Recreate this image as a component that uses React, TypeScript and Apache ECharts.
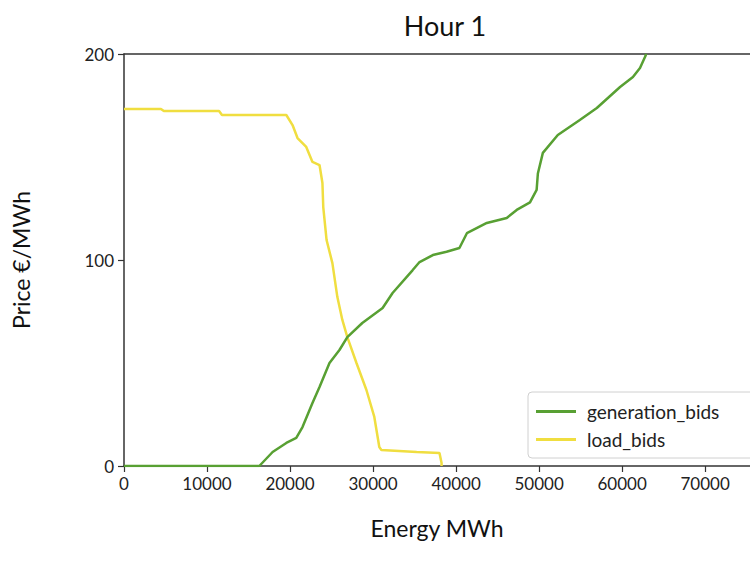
import React, { useEffect, useRef } from "react";
import * as echarts from "echarts";

const title = "Hour 1";
const xName = "Energy MWh";
const yName = "Price €/MWh";
const seriesNames = ["generation_bids", "load_bids"];

// generation bids: [energy MWh, price €/MWh]
const generationEnergy = [0, 16300, 17900, 19550, 20750, 21500, 22700, 23550, 24750, 25950, 26900, 28700, 31150, 32350, 34750, 35600, 37200, 38850, 40400, 41300, 43700, 46100, 47300, 48900, 49700, 49850, 50450, 52250, 54900, 56950, 59750, 61300, 62150, 62750, 62900];
const generationPrice = [0, 0, 6.8, 11.2, 13.6, 18.9, 30.6, 38.3, 50, 56.3, 62.6, 69.4, 76.7, 84, 95, 99, 102.4, 104, 105.8, 113, 118, 120.4, 124.3, 128, 134, 142, 152, 160.7, 168, 173.8, 184, 188.8, 193.2, 198.5, 200];

// load bids: [energy MWh, price €/MWh]
const loadEnergy = [0, 4450, 4800, 11450, 11800, 19550, 20300, 20900, 21950, 22700, 23550, 23900, 24000, 24400, 25100, 25700, 26300, 26900, 28000, 29200, 30150, 30750, 31000, 35250, 38000, 38250, 38250];
const loadPrice = [173.3, 173.3, 172.3, 172.3, 170.4, 170.4, 165.5, 159.2, 154.9, 147.6, 146.1, 137.4, 125.7, 109.7, 98.5, 82, 70.9, 62.6, 50, 36.9, 23.8, 9.2, 7.8, 6.8, 6.3, 1.5, 0];

const xMin = 0;
const xMax = 75400;
const xInterval = 10000;
const yMin = 0;
const yMax = 200;
const yInterval = 100;

const FONT = "Lato";

export default function App() {
  const ref = useRef<HTMLDivElement>(null);
  useEffect(() => {
    if (!ref.current) return;
    const chart = echarts.init(ref.current, undefined, { renderer: "svg" });
    const gen = generationEnergy.map((x, i) => [x, generationPrice[i]]);
    const load = loadEnergy.map((x, i) => [x, loadPrice[i]]);
    const axisColor = "#333";
    const green = "#58a033";
    const yellow = "#f0de40";
    chart.setOption({
      animation: false,
      backgroundColor: "#fff",
      textStyle: { fontFamily: FONT },
      title: {
        text: title,
        left: 440,
        textAlign: "center",
        top: 7,
        textStyle: { fontFamily: FONT, fontSize: 27, fontWeight: "normal", color: "#111" },
      },
      legend: {
        data: seriesNames.map((n) => ({ name: n, icon: "rect" })),
        orient: "vertical",
        left: 528,
        top: 392,
        itemWidth: 40,
        itemHeight: 3,
        itemGap: 9,
        padding: [10, 40, 9, 8],
        borderColor: "#d0d0d0",
        borderWidth: 1,
        borderRadius: 4,
        backgroundColor: "#fff",
        textStyle: { fontFamily: FONT, fontSize: 19, color: "#222", padding: [0, 0, 0, 6] },
      },
      grid: { left: 124, top: 54, right: 0, bottom: 99, containLabel: false },
      xAxis: [
        {
          type: "value",
          min: xMin,
          max: xMax,
          interval: xInterval,
          name: xName,
          nameLocation: "middle",
          nameGap: 50,
          nameTextStyle: { fontFamily: FONT, fontSize: 23, color: "#111" },
          axisLine: { show: true, lineStyle: { color: axisColor, width: 1.5 } },
          axisTick: { show: true, length: 6, lineStyle: { color: axisColor, width: 1.2 } },
          axisLabel: {
            fontFamily: FONT,
            fontSize: 17,
            color: "#222",
            margin: 9,
            showMaxLabel: false,
            formatter: (v: number) => String(v),
          },
          splitLine: { show: false },
        },
        {
          type: "value",
          position: "top",
          min: xMin,
          max: xMax,
          interval: xInterval,
          axisLine: { show: true, lineStyle: { color: axisColor, width: 1.5 } },
          axisTick: { show: false },
          axisLabel: { show: false },
          splitLine: { show: false },
        },
      ],
      yAxis: {
        type: "value",
        min: yMin,
        max: yMax,
        interval: yInterval,
        name: yName,
        nameLocation: "middle",
        nameGap: 92,
        nameRotate: 90,
        nameTextStyle: { fontFamily: FONT, fontSize: 23, color: "#111" },
        axisLine: { show: true, lineStyle: { color: axisColor, width: 1.5 } },
        axisTick: { show: true, length: 6, lineStyle: { color: axisColor, width: 1.2 } },
        axisLabel: { fontFamily: FONT, fontSize: 17, color: "#222", margin: 10, formatter: (v: number) => String(v) },
        splitLine: { show: false },
      },
      series: [
        {
          name: seriesNames[0],
          type: "line",
          xAxisIndex: 0,
          data: gen,
          symbol: "none",
          lineStyle: { color: green, width: 2.5 },
          itemStyle: { color: green },
          z: 3,
        },
        {
          name: seriesNames[1],
          type: "line",
          xAxisIndex: 0,
          data: load,
          symbol: "none",
          lineStyle: { color: yellow, width: 2.5 },
          itemStyle: { color: yellow },
          z: 2,
        },
      ],
    });
    return () => chart.dispose();
  }, []);
  return (
    <div
      ref={ref}
      style={{ position: "absolute", left: 0, top: 0, width: 750, height: 565 }}
    />
  );
}
